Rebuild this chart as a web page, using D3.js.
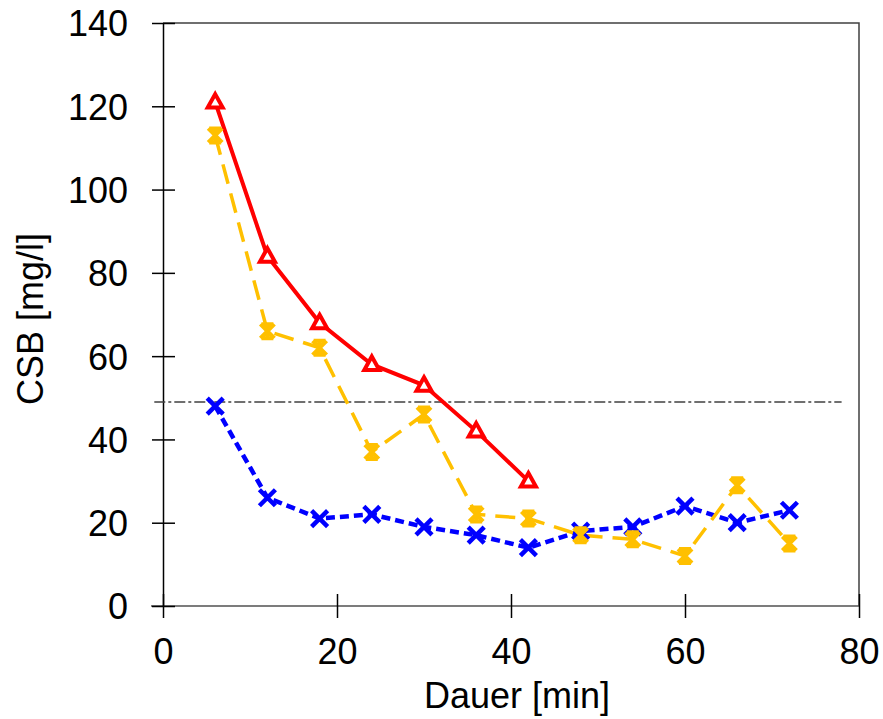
<!DOCTYPE html>
<html>
<head>
<meta charset="utf-8">
<script src="https://cdn.jsdelivr.net/npm/d3@7"></script>
<style>
  body { margin: 0; background: #fff; }
  svg text { font-family: "Liberation Sans", Arial, sans-serif; fill: #000; }
</style>
</head>
<body>
<div id="chart"></div>
<script>
// time points [min]
const timeRed = [6, 12, 18, 24, 30, 36, 42];
const timeLong = [6, 12, 18, 24, 30, 36, 42, 48, 54, 60, 66, 72];
// CSB [mg/l]
const csbRed = [121, 84, 68, 58, 53, 42, 30];
const csbYellow = [113, 66, 62, 37, 46, 22, 21, 17, 16, 12, 29, 15];
const csbBlue = [48, 26, 21, 22, 19, 17, 14, 18, 19, 24, 20, 23];
// limit line
const limitX = [-1, 78];
const limitValue = 49;
const xTicks = [0, 20, 40, 60, 80];
const yTicks = [0, 20, 40, 60, 80, 100, 120, 140];

const margin = {top: 23, right: 24, bottom: 113, left: 163};
const W = 883, H = 719;
const width = W - margin.left - margin.right;
const height = H - margin.top - margin.bottom;

const x = d3.scaleLinear().domain([0, 80]).range([0, width]);
const y = d3.scaleLinear().domain([0, 140]).range([height, 0]);

const svg = d3.select("#chart").append("svg")
    .attr("width", W)
    .attr("height", H)
  .append("g")
    .attr("transform", "translate(" + margin.left + "," + margin.top + ")");

// frame top + right
svg.append("path")
    .attr("d", "M0,0H" + width + "V" + height)
    .attr("fill", "none")
    .attr("stroke", "#404040")
    .attr("stroke-width", 1.5);

// x axis
const gx = svg.append("g")
    .attr("transform", "translate(0," + height + ")")
    .call(d3.axisBottom(x).tickValues(xTicks).tickSize(12).tickPadding(20).tickSizeOuter(0));
gx.select(".domain").attr("stroke", "#505050").attr("stroke-width", 1.5).attr("d", "M-12,0H" + width);
gx.selectAll(".tick line").attr("y1", -12).attr("stroke", "#000").attr("stroke-width", 1.5);
gx.selectAll(".tick text").style("font-size", "36px");

// y axis
const gy = svg.append("g")
    .call(d3.axisLeft(y).tickValues(yTicks).tickSize(11).tickPadding(24).tickSizeOuter(0));
gy.select(".domain").attr("stroke", "#000").attr("stroke-width", 1.5);
gy.selectAll(".tick line").attr("x1", 12).attr("stroke", "#000").attr("stroke-width", 1.5);
gy.selectAll(".tick text").style("font-size", "36px").attr("dy", "0.36em");

// axis titles
svg.append("text")
    .attr("x", 354).attr("y", height + 102)
    .attr("text-anchor", "middle")
    .style("font-size", "36px")
    .text("Dauer [min]");
svg.append("text")
    .attr("transform", "translate(" + (43 - margin.left) + "," + (319 - margin.top) + ") rotate(-90)")
    .attr("text-anchor", "middle")
    .style("font-size", "36px")
    .text("CSB [mg/l]");

// limit line
svg.append("line")
    .attr("x1", x(limitX[0])).attr("x2", x(limitX[1]))
    .attr("y1", y(limitValue)).attr("y2", y(limitValue))
    .attr("stroke", "#404040")
    .attr("stroke-width", 1.5)
    .attr("stroke-dasharray", "11,3,3,3");

const line = d3.line().x(d => x(d[0])).y(d => y(d[1]));

const blue = d3.zip(timeLong, csbBlue);
const yellow = d3.zip(timeLong, csbYellow);
const red = d3.zip(timeRed, csbRed);

svg.append("path").datum(blue)
    .attr("d", line).attr("fill", "none")
    .attr("stroke", "#0000ff").attr("stroke-width", 4.5)
    .attr("stroke-dasharray", "9,5");

svg.append("path").datum(yellow)
    .attr("d", line).attr("fill", "none")
    .attr("stroke", "#ffc000").attr("stroke-width", 3.5)
    .attr("stroke-dasharray", "20,10");

svg.append("path").datum(red)
    .attr("d", line).attr("fill", "none")
    .attr("stroke", "#ff0000").attr("stroke-width", 4);

// markers
const s = 8;
svg.selectAll(".mk-blue").data(blue).enter().append("path")
    .attr("class", "mk-blue")
    .attr("transform", d => "translate(" + x(d[0]) + "," + y(d[1]) + ")")
    .attr("d", "M" + -s + "," + -s + "L" + s + "," + s + "M" + -s + "," + s + "L" + s + "," + -s)
    .attr("stroke", "#0000ff").attr("stroke-width", 4.5).attr("fill", "none");

svg.selectAll(".mk-yellow").data(yellow).enter().append("path")
    .attr("class", "mk-yellow")
    .attr("transform", d => "translate(" + x(d[0]) + "," + y(d[1]) + ")")
    .attr("d", "M-7,-7L7,7M-7,7L7,-7M0,-8V8M-6,-7H6M-6,7H6")
    .attr("stroke", "#ffc000").attr("stroke-width", 4).attr("fill", "none");

svg.selectAll(".mk-red").data(red).enter().append("path")
    .attr("class", "mk-red")
    .attr("transform", d => "translate(" + x(d[0]) + "," + y(d[1]) + ")")
    .attr("d", "M0,-8L7.5,5.5H-7.5Z")
    .attr("stroke", "#ff0000").attr("stroke-width", 4).attr("fill", "#fff")
    .attr("stroke-linejoin", "miter");
</script>
</body>
</html>
